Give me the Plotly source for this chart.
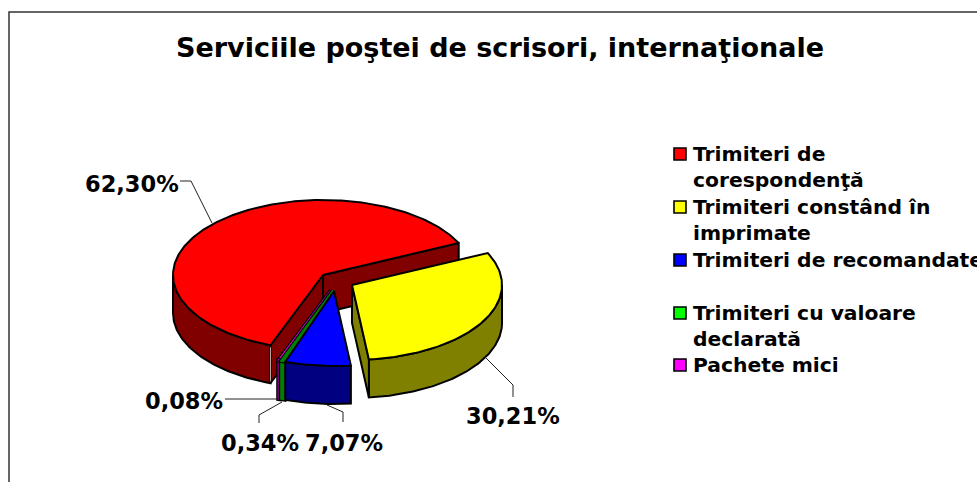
import numpy as np
import plotly.graph_objects as go

title = "Serviciile poştei de scrisori, internaţionale"
categories = ["Trimiteri de corespondenţă", "Trimiteri constând în imprimate",
              "Trimiteri de recomandate", "Trimiteri cu valoare declarată", "Pachete mici"]
values = [62.30, 30.21, 7.07, 0.34, 0.08]
top_colors = ["#FF0000", "#FFFF00", "#0000FF", "#00FF00", "#FF00FF"]
wall_colors = ["#800000", "#808000", "#000080", "#008000", "#800080"]
face_colors = ["#FF0000", "#FFFF00", "#0000FF", "#008000", "#FF00FF"]

# layout constants (pixels, the axes map 1:1 to the page)
W, H = 977, 482
CX, CY, RX, RY, DEPTH = 323, 275, 150, 75, 38
START = 200.5
OFFSETS = [(0, 0), (29, 10), (11, 16), (10, 15.5), (8, 15.5)]
DRAW_ORDER = [0, 1, 4, 3, 2]
FONT = "DejaVu Sans"
LABEL_POS = [(131.5, 184), (513, 416), (344, 443), (259.5, 443), (184, 401)]
LEADERS = [[(180, 181), (191, 181), (212, 223)],
           [(485, 357), (513, 385), (513, 397)],
           [(343, 422), (343, 412), (327, 405)],
           [(259, 423), (259, 415), (282, 402)],
           [(225, 399), (277, 399)]]
LEGEND_LINES = [["Trimiteri de", "corespondenţă"], ["Trimiteri constând în", "imprimate"],
                ["Trimiteri de recomandate"], ["Trimiteri cu valoare", "declarată"], ["Pachete mici"]]
LEGEND_ROWS = [154, 207, 260, 313, 365]
LEGEND_STEP = 26
LEGEND_KEY_X, LEGEND_TEXT_X = 680, 691

fig = go.Figure()


def pt(cx, cy, ang):
    a = np.radians(ang)
    return cx + RX * np.sin(a), cy - RY * np.cos(a)


def poly(xs, ys, fill, thin):
    xs = list(xs) + [xs[0]]
    ys = list(ys) + [ys[0]]
    if thin:
        fig.add_trace(go.Scatter(x=xs, y=ys, mode="lines", line=dict(color="black", width=4.5),
                                 showlegend=False, hoverinfo="skip"))
        fig.add_trace(go.Scatter(x=xs, y=ys, mode="lines", line=dict(color=fill, width=2),
                                 fill="toself", fillcolor=fill, showlegend=False, hoverinfo="skip"))
    else:
        fig.add_trace(go.Scatter(x=xs, y=ys, mode="lines", line=dict(color="black", width=2),
                                 fill="toself", fillcolor=fill, showlegend=False, hoverinfo="skip"))


total = sum(values)
spans = []
a = START
for v in values:
    b = a + v / total * 360
    spans.append((a, b))
    a = b

for i in DRAW_ORDER:
    a0, a1 = spans[i]
    dx, dy = OFFSETS[i]
    cx, cy = CX + dx, CY + dy
    thin = values[i] < 1
    # front rim wall(s): clockwise angle between 90 and 270 (also modulo 360)
    for shift in (0, 360):
        lo, hi = max(a0, 90 + shift), min(a1, 270 + shift)
        if hi > lo:
            t = np.linspace(lo, hi, max(2, int(hi - lo) + 2))
            x, y = pt(cx, cy, t)
            poly(np.r_[x, x[::-1]], np.r_[y, y[::-1] + DEPTH], wall_colors[i], thin)
    # radial cut walls that face the viewer
    if not thin:
        sa = a0 % 360
        ea = a1 % 360
        for ang, visible in ((sa, sa > 180), (ea, ea < 180)):
            if visible:
                x, y = pt(cx, cy, ang)
                poly([cx, x, x, cx], [cy, y, y + DEPTH, cy + DEPTH], wall_colors[i], False)
    if i == 0:
        # pale seam where the rim meets the cut wall
        x, y = pt(cx, cy, a0)
        fig.add_trace(go.Scatter(x=[x, x], y=[y + 2, y + DEPTH - 2], mode="lines",
                                 line=dict(color="#B0B0B0", width=1), showlegend=False, hoverinfo="skip"))
    # top face
    t = np.linspace(a0, a1, max(2, int(a1 - a0) + 2))
    x, y = pt(cx, cy, t)
    poly(np.r_[cx, x], np.r_[cy, y], face_colors[i], thin)

# leader lines
for pts in LEADERS:
    fig.add_trace(go.Scatter(x=[p[0] for p in pts], y=[p[1] for p in pts], mode="lines",
                             line=dict(color="#222222", width=1), showlegend=False, hoverinfo="skip"))

# legend keys
for c, col, yy in zip(categories, top_colors, LEGEND_ROWS):
    fig.add_trace(go.Scatter(x=[LEGEND_KEY_X], y=[yy], mode="markers", name=c,
                             marker=dict(symbol="square", size=12, color=col, line=dict(color="black", width=1.6)),
                             showlegend=False, hoverinfo="name"))

annotations = []
for v, (lx, ly) in zip(values, LABEL_POS):
    annotations.append(dict(x=lx, y=ly, xref="x", yref="y", showarrow=False,
                            text="<b>" + f"{v:.2f}".replace(".", ",") + "%</b>",
                            font=dict(family=FONT, size=22.5, color="black"),
                            xanchor="center", yanchor="middle"))
for lines, yy in zip(LEGEND_LINES, LEGEND_ROWS):
    for k, line in enumerate(lines):
        annotations.append(dict(x=LEGEND_TEXT_X, y=yy + k * LEGEND_STEP, xref="x", yref="y", showarrow=False,
                                text=f"<b>{line}</b>", font=dict(family=FONT, size=20.3, color="black"),
                                xanchor="left", yanchor="middle"))

fig.update_layout(
    width=W, height=H, margin=dict(l=0, r=0, t=0, b=0), paper_bgcolor="white", plot_bgcolor="white",
    showlegend=False,
    title=dict(text=f"<b>{title}</b>", x=500 / W, y=1 - 48 / H, xanchor="center", yanchor="middle",
               font=dict(family=FONT, size=27, color="black")),
    xaxis=dict(range=[0, W], visible=False, fixedrange=True),
    yaxis=dict(range=[H, 0], visible=False, fixedrange=True),
    annotations=annotations,
    shapes=[dict(type="rect", xref="x", yref="y", x0=9, y0=12, x1=W + 20, y1=H + 20,
                 line=dict(color="#333333", width=1.5), fillcolor="rgba(0,0,0,0)", layer="below")],
)
fig.write_html("out.html", config=dict(displayModeBar=False),
               post_script="document.body.style.margin='0';document.body.style.overflow='hidden';")
